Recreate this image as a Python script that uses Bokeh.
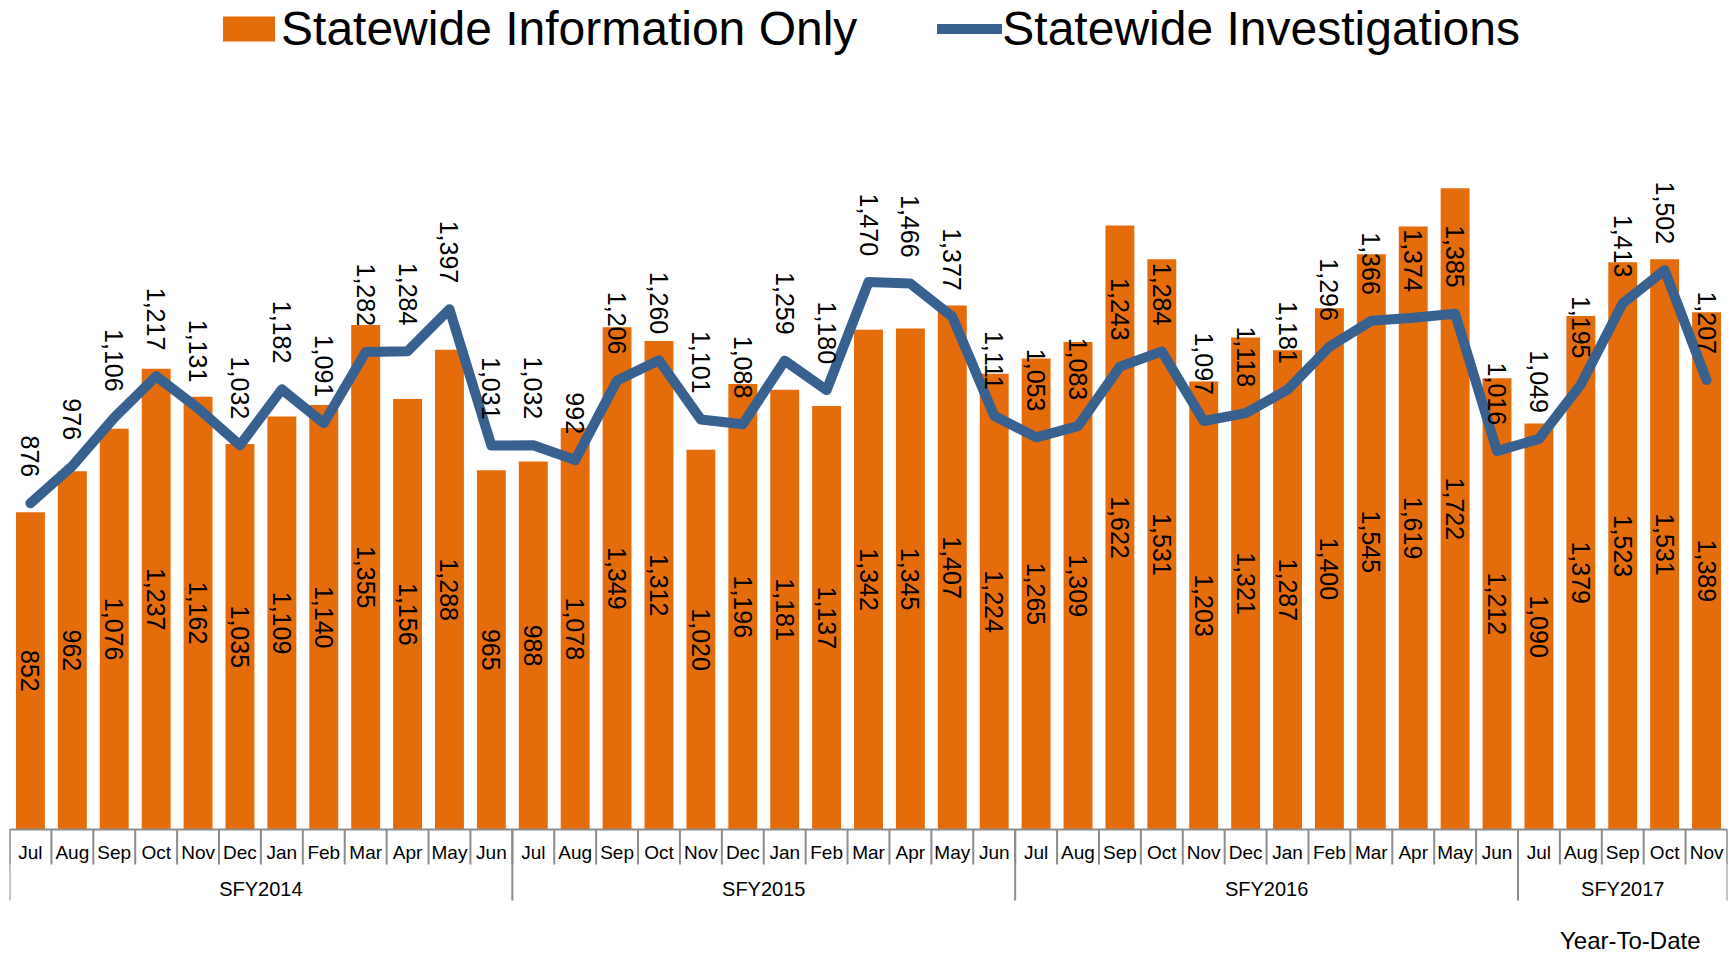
import math
from bokeh.plotting import figure
from bokeh.models import FactorRange, Range1d, Span, Legend, LegendItem, ColumnDataSource
from bokeh.core.properties import value
from bokeh.embed import file_html
from bokeh.resources import INLINE

# ---------------- data ----------------
fiscal_years = ["SFY2014", "SFY2015", "SFY2016", "SFY2017"]
month_names = ["Jul", "Aug", "Sep", "Oct", "Nov", "Dec",
               "Jan", "Feb", "Mar", "Apr", "May", "Jun"]
months_per_year = [12, 12, 12, 5]

info_only = [852, 962, 1076, 1237, 1162, 1035, 1109, 1140, 1355, 1156, 1288, 965,
             988, 1078, 1349, 1312, 1020, 1196, 1181, 1137, 1342, 1345, 1407, 1224,
             1265, 1309, 1622, 1531, 1203, 1321, 1287, 1400, 1545, 1619, 1722, 1212,
             1090, 1379, 1523, 1531, 1389]
investigations = [876, 976, 1106, 1217, 1131, 1032, 1182, 1091, 1282, 1284, 1397, 1031,
                  1032, 992, 1206, 1260, 1101, 1088, 1259, 1180, 1470, 1466, 1377, 1111,
                  1053, 1083, 1243, 1284, 1097, 1118, 1181, 1296, 1366, 1374, 1385, 1016,
                  1049, 1195, 1413, 1502, 1207]
series_names = ["Statewide Information Only", "Statewide Investigations"]
footnote = "Year-To-Date"

# ---------------- styles ----------------
ORANGE = "#E46C0A"
BLUE = "#386190"
GREY = "#8C8C8C"
FONT = value("Liberation Sans")
PX_PER_UNIT = 0.3724          # vertical pixels per data unit
FIG_W, FIG_H = 1734, 956
ZERO_FROM_TOP = 829

factors = [(fy, m) for fy, n in zip(fiscal_years, months_per_year) for m in month_names[:n]]
months = [m for _, m in factors]

y_top = ZERO_FROM_TOP / PX_PER_UNIT
y_bot = -(FIG_H - ZERO_FROM_TOP) / PX_PER_UNIT

p = figure(width=FIG_W, height=FIG_H,
           x_range=FactorRange(*factors, factor_padding=0, group_padding=0,
                               subgroup_padding=0, range_padding=0),
           y_range=Range1d(y_bot, y_top),
           x_axis_type=None, y_axis_type=None,
           output_backend="svg", toolbar_location=None,
           min_border_left=9, min_border_right=7, min_border_top=0, min_border_bottom=0)
p.grid.visible = False
p.outline_line_color = None
p.background_fill_color = "white"
p.border_fill_color = "white"

src = ColumnDataSource(dict(
    x=factors, info=info_only, inv=investigations, month=months,
    info_mid=[v / 2 for v in info_only],
    info_txt=[f"{v:,}" for v in info_only],
    inv_txt=[f"{v:,}" for v in investigations],
))

bars = p.vbar(x="x", top="info", width=0.69, source=src, fill_color=ORANGE, line_color=None)
line = p.line(x="x", y="inv", source=src, line_color=BLUE, line_width=10,
              line_join="round", line_cap="round")

# axis line and separators
p.add_layout(Span(location=0, dimension="width", line_color=GREY, line_width=2))
month_bounds = [(fy, m, -0.5) for fy, m in factors] + [(factors[-1][0], factors[-1][1], 0.5)]
group_bounds = [(fy, month_names[0], -0.5) for fy in fiscal_years] + \
               [(factors[-1][0], factors[-1][1], 0.5)]
tick_len = 35 / PX_PER_UNIT
group_len = 71 / PX_PER_UNIT
p.segment(x0=month_bounds, y0=[0] * len(month_bounds), x1=month_bounds,
          y1=[-tick_len] * len(month_bounds), line_color=GREY, line_width=2)
p.segment(x0=group_bounds, y0=[0] * len(group_bounds), x1=group_bounds,
          y1=[-group_len] * len(group_bounds), line_color=GREY, line_width=2)

# category labels
p.text(x="x", y=0, text="month", source=src, y_offset=23, text_align="center",
       text_baseline="middle", text_font=FONT, text_font_size="19px", text_color="black")
p.text(x=fiscal_years, y=[0] * len(fiscal_years), text=fiscal_years, y_offset=59,
       text_align="center", text_baseline="middle", text_font=FONT,
       text_font_size="20px", text_color="black")
p.text(x=[factors[-1]], y=[0], text=[footnote], x_offset=-6, y_offset=111,
       text_align="right", text_baseline="middle", text_font=FONT,
       text_font_size="24px", text_color="black")

# data labels
p.text(x="x", y="info_mid", text="info_txt", source=src, angle=-math.pi / 2,
       text_align="center", text_baseline="middle", text_font=FONT,
       text_font_size="25px", text_color="black")
p.text(x="x", y="inv", text="inv_txt", source=src, angle=-math.pi / 2, y_offset=-26,
       text_align="right", text_baseline="middle", text_font=FONT,
       text_font_size="25px", text_color="black")

legend = Legend(items=[LegendItem(label=series_names[0], renderers=[bars]),
                       LegendItem(label=series_names[1], renderers=[line])],
                location="top_center", orientation="horizontal",
                glyph_width=65, glyph_height=31, label_standoff=0, spacing=80,
                label_text_font="Liberation Sans", label_text_font_size="48px",
                label_text_color="black", border_line_alpha=0, background_fill_alpha=0,
                margin=0, padding=1)
p.add_layout(legend)

open("out.html", "w").write(file_html(p, INLINE))
